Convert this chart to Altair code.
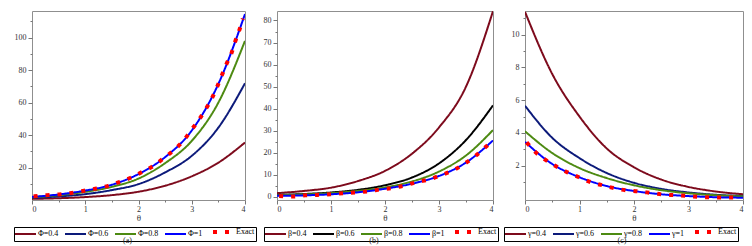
import altair as alt
import pandas as pd

FONT = "Liberation Serif"

X = [0, 0.5, 1, 1.5, 2, 2.5, 3, 3.5, 4]
X_TICKS = [0, 0.5, 1, 1.5, 2, 2.5, 3, 3.5, 4]

# ---------- panel (a) ----------
a_labels = ["Φ=0.4", "Φ=0.6", "Φ=0.8", "Φ=1", "Exact"]
a_colors = ["#7d0a1c", "#0c1a7a", "#4d8a12", "#0000ff", "#ff0000"]
a_phi04 = [0.7, 1.1, 1.8, 3.0, 5.1, 8.8, 14.6, 23.0, 35.4]
a_phi06 = [1.3, 2.2, 3.6, 6.1, 9.8, 17.0, 27.2, 44.6, 71.9]
a_phi08 = [1.7, 3.0, 5.0, 8.1, 13.2, 22.7, 36.4, 60.0, 98.0]
a_phi1 = [1.9, 3.4, 5.8, 9.4, 16.0, 26.4, 42.8, 71.5, 114.5]
a_exact_x = [0.03, 0.28, 0.51, 0.75, 0.98, 1.21, 1.43, 1.65, 1.88, 2.08, 2.28, 2.49, 2.67,
             2.84, 2.98, 3.12, 3.25, 3.37, 3.47, 3.56, 3.65, 3.75, 3.82, 3.90, 3.96]
a_exact_y = [2.2, 3.0, 3.4, 4.4, 5.7, 7.1, 8.7, 11.2, 14.1, 17.5, 21.0, 26.2, 30.9,
             36.4, 42.6, 48.7, 55.3, 62.1, 69.2, 76.4, 83.6, 90.8, 98.0, 105.2, 111.7]
a_yticks = [10, 20, 30, 40, 50, 60, 70, 80, 90, 100, 110]

# ---------- panel (b) ----------
b_labels = ["β=0.4", "β=0.6", "β=0.8", "β=1", "Exact"]
b_colors = ["#7d0a1c", "#000000", "#4d8a12", "#0000ff", "#ff0000"]
b_beta04 = [1.7, 2.7, 4.2, 7.2, 11.8, 19.6, 31.5, 50.0, 84.2]
b_beta06 = [0.9, 1.3, 2.0, 3.2, 5.3, 8.8, 15.2, 25.8, 41.5]
b_beta08 = [0.75, 1.1, 1.7, 2.7, 4.3, 7.0, 11.5, 18.8, 30.3]
b_beta1 = [0.5, 0.7, 1.2, 2.1, 3.7, 6.0, 9.5, 15.6, 25.6]
b_exact_x = [0.04, 0.28, 0.53, 0.75, 0.99, 1.24, 1.47, 1.70, 1.94, 2.15, 2.38, 2.60,
             2.83, 3.05, 3.27, 3.46, 3.66, 3.83, 3.99]
b_exact_y = [0.45, 0.15, 0.75, 0.9, 1.2, 1.7, 2.0, 2.6, 3.5, 4.1, 5.3, 6.8,
             8.0, 10.0, 12.1, 14.9, 18.3, 21.9, 25.4]
b_yticks = [0, 5, 10, 15, 20, 25, 30, 35, 40, 45, 50, 55, 60, 65, 70, 75, 80]

# ---------- panel (c) ----------
c_labels = ["γ=0.4", "γ=0.6", "γ=0.8", "γ=1", "Exact"]
c_colors = ["#7d0a1c", "#0c1a7a", "#4d8a12", "#0000ff", "#ff0000"]
c_gamma04 = [11.4, 7.6, 5.0, 3.05, 1.9, 1.15, 0.7, 0.42, 0.25]
c_gamma06 = [5.66, 3.7, 2.46, 1.55, 0.95, 0.58, 0.36, 0.22, 0.14]
c_gamma08 = [4.1, 2.77, 1.85, 1.24, 0.8, 0.5, 0.31, 0.19, 0.12]
c_gamma1 = [3.45, 2.1, 1.29, 0.75, 0.45, 0.25, 0.14, 0.07, 0.04]
c_exact_x = [0.03, 0.19, 0.37, 0.57, 0.78, 0.99, 1.20, 1.42, 1.63, 1.85, 2.08, 2.31,
             2.54, 2.77, 3.0, 3.23, 3.46, 3.71, 3.88]
c_exact_y = [3.42, 2.83, 2.37, 1.96, 1.59, 1.29, 1.0, 0.8, 0.63, 0.49, 0.43, 0.33,
             0.23, 0.19, 0.14, 0.08, 0.06, 0.05, 0.06]
c_yticks = [1, 2, 3, 4, 5, 6, 7, 8, 9, 10, 11]

# legend symbol: a 21px horizontal stroke drawn from a small (4px) symbol box
SYMBOL_PATH = "M-2,0H8.5"


def panel(labels, colors, series, ex_x, ex_y, ydom, yticks, ystep, caption, lx, tdx, w):
    rows = []
    for lab, vals in zip(labels[:4], series):
        for xv, yv in zip(X, vals):
            rows.append({"x": xv, "y": yv, "s": lab})
    for xv, yv in zip(ex_x, ex_y):
        rows.append({"x": xv, "y": yv, "s": labels[4]})
    df = pd.DataFrame(rows)

    def leg():
        return alt.Legend(
            title=None, orient="none", legendX=lx, legendY=216,
            direction="horizontal", columns=5, symbolType=SYMBOL_PATH,
            symbolSize=16, labelFont=FONT, labelFontSize=8, labelColor="black",
            labelOffset=15, columnPadding=2, padding=1, strokeColor="black",
            fillColor="white", rowPadding=0, labelLimit=0, labelBaseline="middle",
        )

    return alt.Chart(df, title=alt.TitleParams(
        caption, orient="bottom", dx=tdx, offset=-5, fontSize=8, font=FONT,
        fontWeight="normal", color="#222")).mark_line(
        interpolate="monotone", clip=True, strokeCap="butt"
    ).encode(
        x=alt.X("x:Q", scale=alt.Scale(domain=[0, 4], nice=False, zero=False),
                axis=alt.Axis(values=X_TICKS, title="θ",
                              labelExpr="datum.value % 1 == 0 ? format(datum.value, 'd') : ''",
                              tickSize={"condition": {"test": "datum.value % 1 == 0", "value": 4}, "value": 2},
                              labelPadding=1, titlePadding=0, labelFlush=True)),
        y=alt.Y("y:Q", scale=alt.Scale(domain=ydom, nice=False, zero=False),
                axis=alt.Axis(values=yticks, title=None,
                              labelExpr=f"datum.value % {ystep} == 0 ? format(datum.value, 'd') : ''",
                              tickSize={"condition": {"test": f"datum.value % {ystep} == 0", "value": 4}, "value": 2},
                              labelPadding=2)),
        color=alt.Color("s:N", scale=alt.Scale(domain=labels, range=colors), legend=leg()),
        strokeDash=alt.StrokeDash("s:N", scale=alt.Scale(domain=labels, range=[[1, 0], [1, 0], [1, 0], [1, 0], [4, 8]]), legend=leg()),
        strokeWidth=alt.StrokeWidth("s:N", scale=alt.Scale(type="ordinal", domain=labels, range=[2, 2, 2, 2, 4]), legend=leg()),
    ).properties(width=w, height=189)


pa = panel(a_labels, a_colors, [a_phi04, a_phi06, a_phi08, a_phi1], a_exact_x, a_exact_y,
           [0.0, 116.4], a_yticks, 20, "(a)", -18, -11, 213)
pb = panel(b_labels, b_colors, [b_beta04, b_beta06, b_beta08, b_beta1], b_exact_x, b_exact_y,
           [-1.4, 84.3], b_yticks, 10, "(b)", -13, -11, 216)
pc = panel(c_labels, c_colors, [c_gamma04, c_gamma06, c_gamma08, c_gamma1], c_exact_x, c_exact_y,
           [-0.1, 11.45], c_yticks, 2, "(c)", -21, -12, 218)

chart = alt.hconcat(pa, pb, pc, spacing=32, bounds="flush").resolve_scale(
    color="independent", strokeDash="independent", strokeWidth="independent"
).resolve_legend(
    color="independent", strokeDash="independent", strokeWidth="independent"
).properties(
    padding={"left": 5, "top": 2, "right": 0, "bottom": 0}
).configure_view(
    stroke="#8f8f8f", strokeWidth=1
).configure_axis(
    domain=False, grid=False, labelFont=FONT, labelFontSize=8, labelColor="#333",
    tickColor="#777", titleFont=FONT, titleFontSize=9, titleFontWeight="normal",
    titleColor="#333"
)

chart.save("out.html", embed_options={"renderer": "svg", "actions": False})
